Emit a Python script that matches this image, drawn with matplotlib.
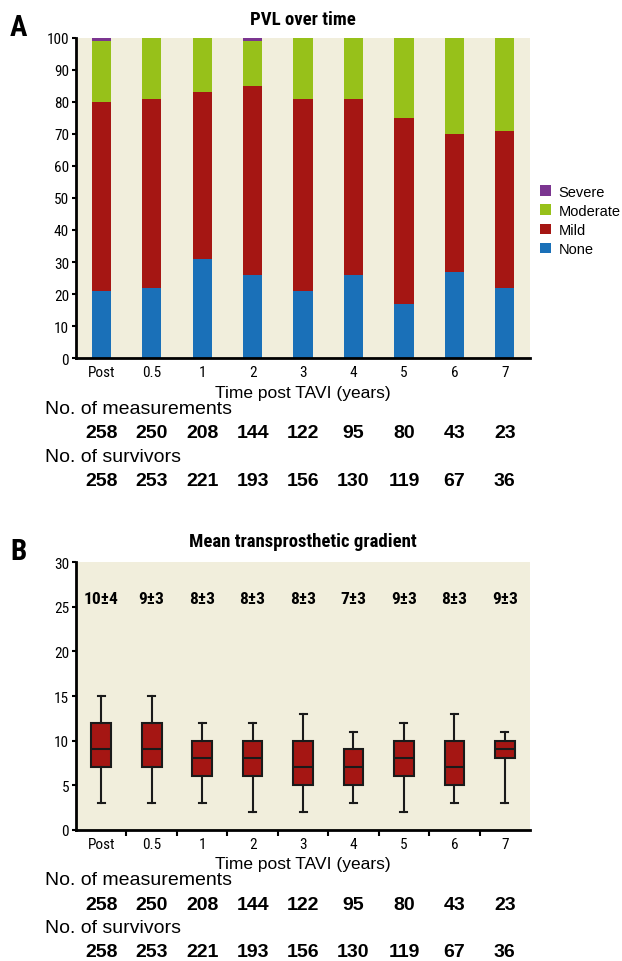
import matplotlib
matplotlib.use('Agg')
import matplotlib.pyplot as plt
from matplotlib.transforms import blended_transform_factory
import numpy as np

# time points and follow-up counts
labels = ['Post', '0.5', '1', '2', '3', '4', '5', '6', '7']
n_measurements = [258, 250, 208, 144, 122, 95, 80, 43, 23]
n_survivors = [258, 253, 221, 193, 156, 130, 119, 67, 36]

# paravalvular leak grade (%)
pvl_none = [21, 22, 31, 26, 21, 26, 17, 27, 22]
pvl_mild = [59, 59, 52, 59, 60, 55, 58, 43, 49]
pvl_moderate = [19, 19, 17, 14, 19, 19, 25, 30, 29]
pvl_severe = [1, 0, 0, 1, 0, 0, 0, 0, 0]

# mean transprosthetic gradient (mmHg) box summaries
grad_low = [3, 3, 3, 2, 2, 3, 2, 3, 3]
grad_q1 = [7, 7, 6, 6, 5, 5, 6, 5, 8]
grad_med = [9, 9, 8, 8, 7, 7, 8, 7, 9]
grad_q3 = [12, 12, 10, 10, 10, 9, 10, 10, 10]
grad_high = [15, 15, 12, 12, 13, 11, 12, 13, 11]
grad_mean = [10, 9, 8, 8, 8, 7, 9, 8, 9]
grad_sd = [4, 3, 3, 3, 3, 3, 3, 3, 3]

NARROW = ['Roboto Condensed', 'DejaVu Sans']
REG = ['Liberation Sans', 'DejaVu Sans']
BG = '#f1eedc'
C_NONE = '#1a70b8'
C_MILD = '#a51613'
C_MOD = '#97c11a'
C_SEV = '#7b3590'

fig = plt.figure(figsize=(6.22, 9.62), dpi=100)
x = np.arange(len(labels))


def style_axes(ax):
    ax.set_facecolor(BG)
    for s in ('top', 'right'):
        ax.spines[s].set_visible(False)
    for s in ('left', 'bottom'):
        ax.spines[s].set_linewidth(2)
    ax.set_xlim(-0.5, len(labels) - 0.5)
    ax.tick_params(axis='y', direction='out', length=3, width=1.5, pad=2,
                   labelsize=11)
    for t in ax.get_yticklabels():
        t.set_family(NARROW)


def counts_block(ax, y_xlabel, y_rows):
    tr = blended_transform_factory(ax.transData, fig.transFigure)
    fig.text(0.487, y_xlabel, 'Time post TAVI (years)', family=REG,
             fontsize=12.5, ha='center', va='center')
    names = ['No. of measurements', 'No. of survivors']
    rows = [n_measurements, n_survivors]
    for k in range(2):
        fig.text(45 / 622, y_rows[2 * k], names[k], family=REG, fontsize=14,
                 ha='left', va='center')
        for xi, v in zip(x, rows[k]):
            ax.text(xi, y_rows[2 * k + 1], str(v), transform=tr, family=REG,
                    fontsize=14, fontweight='bold', ha='center', va='center')


# A: stacked bars of PVL grade
axA = fig.add_axes([0.1222, 0.6268, 0.730, 0.3327])
w = 0.38
axA.bar(x, pvl_none, w, color=C_NONE, label='None')
axA.bar(x, pvl_mild, w, bottom=pvl_none, color=C_MILD, label='Mild')
b2 = np.add(pvl_none, pvl_mild)
axA.bar(x, pvl_moderate, w, bottom=b2, color=C_MOD, label='Moderate')
b3 = b2 + np.array(pvl_moderate)
axA.bar(x, pvl_severe, w, bottom=b3, color=C_SEV, label='Severe')
axA.set_ylim(0, 100)
axA.set_yticks(range(0, 101, 10))
axA.set_xticks(x)
axA.set_xticklabels(labels, family=NARROW, fontsize=11)
axA.tick_params(axis='x', length=0, pad=5)
style_axes(axA)
axA.set_title('PVL over time', family=NARROW, fontsize=13.5, fontweight='bold',
              pad=10)
h, l = axA.get_legend_handles_labels()
axA.legend(h[::-1], l[::-1], loc='center left', bbox_to_anchor=(1.0, 0.43),
           frameon=False, prop={'family': REG, 'size': 10.5},
           handlelength=0.75, handleheight=0.75, handletextpad=0.5,
           labelspacing=0.35, borderaxespad=0.3)
fig.text(0.016, 0.971, 'A', family=NARROW, fontsize=21, fontweight='bold',
         ha='left', va='center')
counts_block(axA, 1 - 394 / 962,
             [1 - 410 / 962, 1 - 434 / 962, 1 - 458 / 962, 1 - 482 / 962])

# B: box plots of mean gradient
axB = fig.add_axes([0.1222, 0.1365, 0.730, 0.2779])
stats = [dict(whislo=lo, q1=q1, med=m, q3=q3, whishi=hi, fliers=[])
         for lo, q1, m, q3, hi in zip(grad_low, grad_q1, grad_med,
                                      grad_q3, grad_high)]
axB.bxp(stats, positions=x, widths=0.39, patch_artist=True, showfliers=False,
        boxprops=dict(facecolor=C_MILD, edgecolor='#1a1a1a', linewidth=1.5),
        medianprops=dict(color='#1a1a1a', linewidth=1.5),
        whiskerprops=dict(color='#1a1a1a', linewidth=1.5),
        capprops=dict(color='#1a1a1a', linewidth=1.5), capwidths=0.14)
axB.set_ylim(0, 30)
axB.set_yticks(range(0, 31, 5))
axB.set_xticks(x)
axB.set_xticklabels(labels, family=NARROW, fontsize=11)
axB.set_xticks(x[:-1] + 0.5, minor=True)
axB.tick_params(axis='x', which='major', length=0, pad=5)
axB.tick_params(axis='x', which='minor', length=4, width=1.5, direction='out')
style_axes(axB)
for xi, m, s in zip(x, grad_mean, grad_sd):
    axB.text(xi, 25.9, f'{m}\u00b1{s}', family=NARROW, fontsize=12.5,
             fontweight='bold', ha='center', va='center')
axB.set_title('Mean transprosthetic gradient', family=NARROW, fontsize=13.5,
              fontweight='bold', pad=12)
fig.text(0.016, 1 - 552 / 962, 'B', family=NARROW, fontsize=21,
         fontweight='bold', ha='left', va='center')
counts_block(axB, 1 - 865 / 962,
             [1 - 881 / 962, 1 - 906 / 962, 1 - 929 / 962, 1 - 953 / 962])

fig.savefig('out.png', dpi=100)
